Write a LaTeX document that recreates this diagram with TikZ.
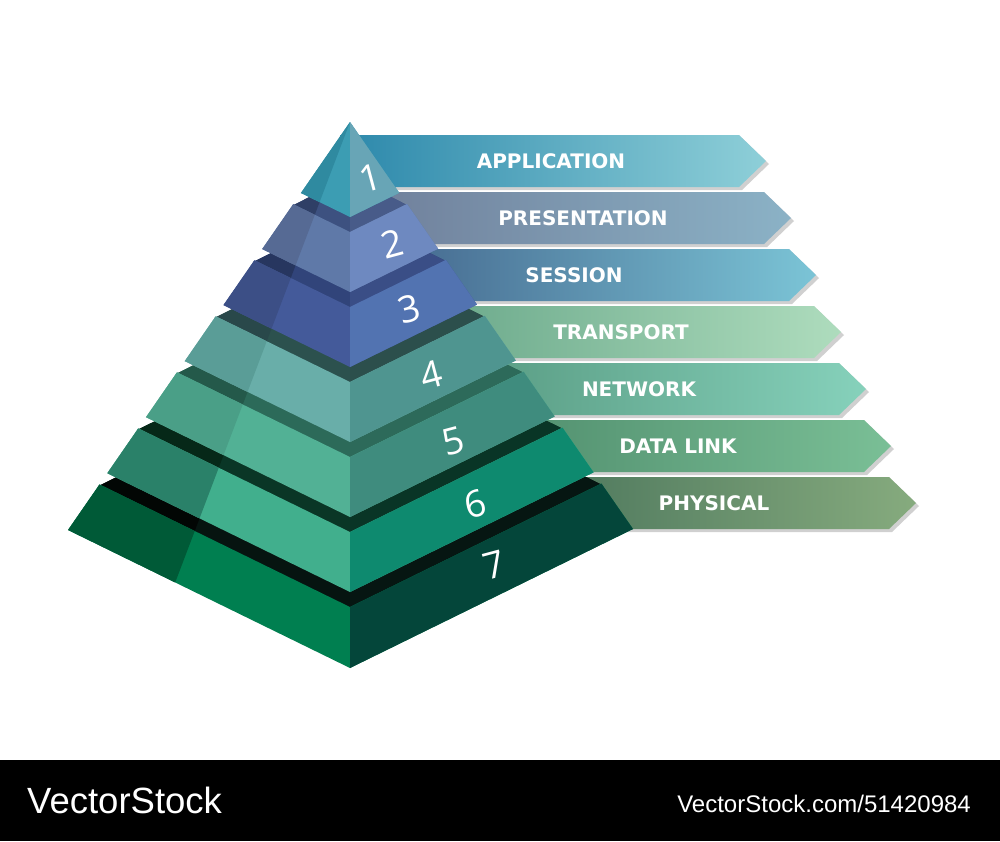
\documentclass[tikz,border=0pt]{standalone}
\usepackage{fontspec}
\setmainfont{Open Sans}
\newfontfamily\labelfont{DejaVu Sans}
\newfontfamily\footfont{Liberation Sans}
\usetikzlibrary{calc}
% pyramid faces (dark-left, main-left, right)
\definecolor{f1d}{HTML}{2F8AA0}\definecolor{f1m}{HTML}{3C9DB3}\definecolor{f1r}{HTML}{68A5B6}
\definecolor{f2d}{HTML}{566A94}\definecolor{f2m}{HTML}{5F79A8}\definecolor{f2r}{HTML}{6E89C0}
\definecolor{f3d}{HTML}{3C4F86}\definecolor{f3m}{HTML}{445A9A}\definecolor{f3r}{HTML}{5273B1}
\definecolor{f4d}{HTML}{5A9D97}\definecolor{f4m}{HTML}{69AEA9}\definecolor{f4r}{HTML}{4F9590}
\definecolor{f5d}{HTML}{4A9F87}\definecolor{f5m}{HTML}{52B195}\definecolor{f5r}{HTML}{3F8C7E}
\definecolor{f6d}{HTML}{2A8169}\definecolor{f6m}{HTML}{41AF8D}\definecolor{f6r}{HTML}{0E8A6F}
\definecolor{f7d}{HTML}{005A37}\definecolor{f7m}{HTML}{007F50}\definecolor{f7r}{HTML}{04463A}
% top surfaces (bands)
\definecolor{b2d}{HTML}{2F3F66}\definecolor{b2m}{HTML}{3D5180}\definecolor{b2r}{HTML}{485B89}
\definecolor{b3d}{HTML}{27365F}\definecolor{b3m}{HTML}{31447A}\definecolor{b3r}{HTML}{3A4E86}
\definecolor{b4d}{HTML}{29484A}\definecolor{b4m}{HTML}{2C514E}\definecolor{b4r}{HTML}{2C4F4C}
\definecolor{b5d}{HTML}{24594A}\definecolor{b5m}{HTML}{2C6A59}\definecolor{b5r}{HTML}{2D6A5A}
\definecolor{b6d}{HTML}{062818}\definecolor{b6m}{HTML}{0A3626}\definecolor{b6r}{HTML}{093526}
\definecolor{b7d}{HTML}{020604}\definecolor{b7m}{HTML}{061410}\definecolor{b7r}{HTML}{061612}
% banners
\definecolor{g1l}{HTML}{2C88AB}\definecolor{g1r}{HTML}{8ECFD8}
\definecolor{g2l}{HTML}{6E7C98}\definecolor{g2r}{HTML}{8BB2C6}
\definecolor{g3l}{HTML}{3E5D86}\definecolor{g3r}{HTML}{7BC4D6}
\definecolor{g4l}{HTML}{5B9D7F}\definecolor{g4r}{HTML}{AEDCBD}
\definecolor{g5l}{HTML}{4A8A70}\definecolor{g5r}{HTML}{86D1BB}
\definecolor{g6l}{HTML}{3F7A5D}\definecolor{g6r}{HTML}{7ABF96}
\definecolor{g7l}{HTML}{2D5A4A}\definecolor{g7r}{HTML}{86AB7E}
\definecolor{shadowgray}{HTML}{D0D0D0}

\newcommand\splitfill[3]{% dark, main, right  (inside a clip)
  \fill[#2] (-300,-400) rectangle (1300,1200);
  \fill[#3] (350,-400) rectangle (1300,1200);
  \fill[#1] (SpA) -- (SpB) -- (-300,1044) -- (-300,-339) -- cycle;
}
\newcommand\pband[4]{% t, dark, main, right : visible top surface
  \pgfmathsetmacro\bandt{#1+0.004}
  \coordinate (ql) at ($(A)!\bandt!(Lb)$);
  \coordinate (qf) at ($(A)!\bandt!(Fb)$);
  \coordinate (qr) at ($(A)!\bandt!(Rb)$);
  \coordinate (pl) at ($(A)!#1!(Lb)$);
  \coordinate (pf) at ($(A)!#1!(Fb)$);
  \coordinate (pr) at ($(A)!#1!(Rb)$);
  \coordinate (pb) at ($(pl)+(pr)-(pf)$);
  \begin{scope}
    \clip (ql) -- (qf) -- (qr) -- (pb) -- cycle;
    \splitfill{#2}{#3}{#4}
  \end{scope}
}
\newcommand\pfaces[5]{% ttop, tbot, dark, main, right
  \coordinate (ul) at ($(A)!#1!(Lb)$);
  \coordinate (uf) at ($(A)!#1!(Fb)$);
  \coordinate (ur) at ($(A)!#1!(Rb)$);
  \coordinate (dl) at ($(A)!#2!(Lb)$);
  \coordinate (df) at ($(A)!#2!(Fb)$);
  \coordinate (dr) at ($(A)!#2!(Rb)$);
  \begin{scope}
    \clip (ul) -- (uf) -- (ur) -- (dr) -- (df) -- (dl) -- cycle;
    \splitfill{#3}{#4}{#5}
  \end{scope}
}

\tikzset{
  bannertext/.style={text=white, font=\labelfont\bfseries\fontsize{20}{23}\selectfont, inner sep=0pt},
  digit/.style={text=white, font=\fontsize{37}{42}\selectfont, inner sep=0pt, rotate=15},
  shadowshape/.style={fill=shadowgray}
}

\begin{document}
\begin{tikzpicture}[x=1pt,y=-1pt]
\useasboundingbox (0,0) rectangle (1000,841);
\fill[white] (0,0) rectangle (1000,841);

% ---------- banners ----------
\foreach \k/\txt/\tx in {1/APPLICATION/551,2/PRESENTATION/583,3/SESSION/574,4/TRANSPORT/621,5/NETWORK/639,6/DATA LINK/678,7/PHYSICAL/714}{
  \pgfmathsetmacro\btop{135+57*(\k-1)}
  \pgfmathsetmacro\bbot{\btop+52}
  \pgfmathsetmacro\bmid{\btop+26}
  \pgfmathsetmacro\btip{766+25*(\k-1)}
  \pgfmathsetmacro\bcx{\btip-27}
  \fill[shadowshape] (343,\btop+3) -- (\bcx+3,\btop+3) -- (\btip+3,\bmid+3) -- (\bcx+3,\bbot+3) -- (343,\bbot+3) -- cycle;
  \shade[left color=g\k l, right color=g\k r] (340,\btop) -- (\bcx,\btop) -- (\btip,\bmid) -- (\bcx,\bbot) -- (340,\bbot) -- cycle;
  \node[bannertext] (lab\k) at (\tx,\bmid) {\txt};
}

% ---------- pyramid ----------
\coordinate (A) at (350,122);
\coordinate (Lb) at (68,530);
\coordinate (Fb) at (350,668);
\coordinate (Rb) at (633,529);
\coordinate (Sb) at (175,583);
\coordinate (SpA) at ($(A)!-1!(Sb)$);
\coordinate (SpB) at ($(A)!2!(Sb)$);

\pband{0.88828}{b7d}{b7m}{b7r}
\pfaces{0.88828}{1}{f7d}{f7m}{f7r}
\pband{0.75092}{b6d}{b6m}{b6r}
\pfaces{0.75092}{0.86081}{f6d}{f6m}{f6r}
\pband{0.61355}{b5d}{b5m}{b5r}
\pfaces{0.61355}{0.72344}{f5d}{f5m}{f5r}
\pband{0.47619}{b4d}{b4m}{b4r}
\pfaces{0.47619}{0.58608}{f4d}{f4m}{f4r}
\pband{0.33883}{b3d}{b3m}{b3r}
\pfaces{0.33883}{0.44872}{f3d}{f3m}{f3r}
\pband{0.20147}{b2d}{b2m}{b2r}
\pfaces{0.20147}{0.31136}{f2d}{f2m}{f2r}
\pfaces{0}{0.17399}{f1d}{f1m}{f1r}

% ---------- layer numbers ----------
\node[digit] (n1) at (370,178) {1};
\node[digit] (n2) at (392,244) {2};
\node[digit] (n3) at (409,309) {3};
\node[digit] (n4) at (431,375) {4};
\node[digit] (n5) at (453,441) {5};
\node[digit] (n6) at (475,504) {6};
\node[digit] (n7) at (494,565) {7};

% ---------- footer ----------
\fill[black] (0,760) rectangle (1000,841);
\node[text=white, font=\footfont\fontsize{36.5}{40}\selectfont, inner sep=0pt, anchor=base west] (brand) at (27,813) {VectorStock};
\node[text=white, font=\footfont\fontsize{24}{28}\selectfont, inner sep=0pt, anchor=base east] (url) at (971,812) {VectorStock.com/51420984};
\end{tikzpicture}
\end{document}
